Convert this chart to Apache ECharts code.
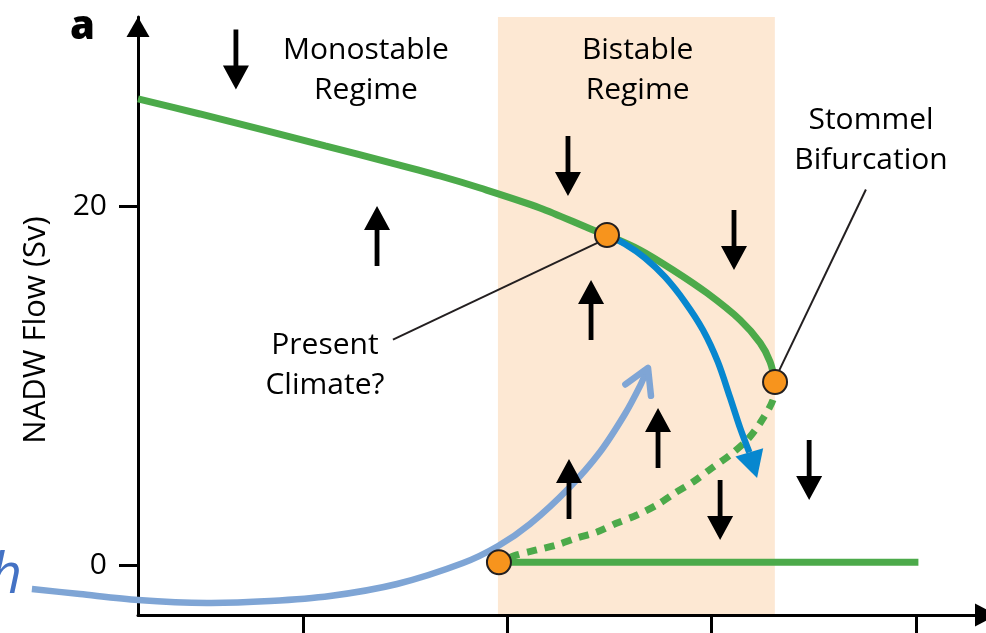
<!DOCTYPE html>
<html><head><meta charset="utf-8">
<script src="https://cdn.jsdelivr.net/npm/echarts@6/dist/echarts.min.js"></script>
<style>html,body{margin:0;padding:0;background:#fff}#c{width:986px;height:633px}</style>
</head><body><div id="c"></div>
<script>
// ---- data (x: forcing, arbitrary units; y: NADW flow in Sv) ----
const xTickValues = [10, 20, 30, 40];
const yTickValues = [0, 20];
const bistableRange = [19.53, 33.09];
const stableUpper = [[1.905,26.00],[4.94,25.16],[8.03,24.27],[11.07,23.38],[14.15,22.48],[16.70,21.70],[18.66,21.03],[21.59,19.92],[24.19,18.69],[24.87,18.41],[26.49,17.57],[28.10,16.46],[29.77,15.17],[31.39,13.67],[32.37,12.39],[32.86,11.33],[33.10,10.21]];
const unstableBranch = [[33.10,10.21],[33.00,9.21],[32.37,7.92],[31.73,6.97],[30.90,6.14],[30.01,5.41],[29.08,4.63],[28.20,4.02],[27.32,3.35],[26.34,2.79],[25.36,2.34],[24.38,1.84],[23.40,1.51],[22.42,1.12],[21.44,0.84],[20.46,0.56],[19.58,0.17]];
const stableLower = [[19.58,0.15],[40.12,0.15]];
const collapsePath = [[24.87,18.41],[25.75,17.91],[26.73,17.13],[27.71,16.07],[28.69,14.67],[29.57,13.11],[30.30,11.33],[30.89,9.37],[31.39,7.64],[31.84,6.28]];
const collapseHead = [[31.84,6.28,32.22,4.85]];
const recoveryPath = [[-3.29,-1.34],[-0.94,-1.62],[1.91,-1.95],[5.28,-2.12],[8.37,-2.01],[11.31,-1.73],[14.59,-1.06],[17.82,0.11],[19.54,1.06],[21.10,2.29],[23.01,4.30],[24.53,6.30],[25.75,8.42],[26.49,9.99],[26.80,10.80]];
const recoveryHead = [[26.49,9.99,26.88,10.99]];
const bifurcationPoints = [[19.58,0.15],[24.87,18.41],[33.10,10.21]];
const flowArrows = [[6.70,28.2,-1],[13.61,18.35,1],[22.96,22.26,-1],[24.09,14.23,1],[31.09,18.13,-1],[27.37,7.09,1],[23.01,4.24,1],[30.41,3.07,-1],[34.77,5.30,-1]];
const leaderLines = [[[14.39,12.57],[24.53,18.04]],[[37.55,20.95],[33.30,10.84]]];
const annotationText = ['Monostable\nRegime','Bistable\nRegime','Stommel\nBifurcation','Present\nClimate?'];
const annotationPos = [[13.07,27.61],[26.37,27.61],[37.80,23.68],[11.06,11.13]];
const panelLabel = {text:'a', pos:[-0.81,29.96]};
const forcingLabel = {text:'h', pos:[-4.56,-0.67]};
const Y_MIN = -2.79, Y_MAX = 30.57, X_MIN = 1.905, X_MAX = 43.43;

const GREEN = '#4CAA4A', BLUE = '#0787CF', LIGHTBLUE = '#7FA5D5', ORANGE = '#F7941D', FONT = 'Open Sans';

function renderRegion(params, api) {
  const p0 = api.coord([api.value(0), Y_MAX]);
  const p1 = api.coord([api.value(1), Y_MIN]);
  return {type:'rect', shape:{x:p0[0], y:p0[1], width:p1[0]-p0[0], height:p1[1]-p0[1]}, style:{fill:'#FDE8D3'}};
}
function renderRecovery(params, api) {
  if (params.dataIndex !== 0) return null;
  const pts = recoveryPath.map(p => api.coord(p));
  return {type:'polyline', shape:{points:pts, smooth:0.3}, style:{stroke:LIGHTBLUE, lineWidth:6.5, fill:null, lineCap:'butt'}};
}
function renderFlowArrow(params, api) {
  const c = api.coord([api.value(0), api.value(1)]);
  const d = api.value(2);
  const L = 60, hw = 13, hl = 24, sw = 2.4;
  const tip = c[1] - d * L / 2, tail = c[1] + d * L / 2, hb = tip + d * hl;
  return {type:'polygon', shape:{points:[[c[0]-sw,tail],[c[0]+sw,tail],[c[0]+sw,hb],[c[0]+hw,hb],[c[0],tip],[c[0]-hw,hb],[c[0]-sw,hb]]}, style:{fill:'#000'}};
}
function renderFilledHead(params, api) {
  const b = api.coord([api.value(0), api.value(1)]);
  const t = api.coord([api.value(2), api.value(3)]);
  const dx = t[0]-b[0], dy = t[1]-b[1], len = Math.hypot(dx, dy);
  const nx = -dy/len, ny = dx/len, hw = 14.5;
  return {type:'polygon', shape:{points:[t,[b[0]+nx*hw,b[1]+ny*hw],[b[0]-nx*hw,b[1]-ny*hw]]}, style:{fill:BLUE}};
}
function renderOpenHead(params, api) {
  const b = api.coord([api.value(0), api.value(1)]);
  const t = api.coord([api.value(2), api.value(3)]);
  const dx = b[0]-t[0], dy = b[1]-t[1], len = Math.hypot(dx, dy);
  const ux = dx/len, uy = dy/len, a = Math.PI/6, L = 28;
  const c = Math.cos(a), s = Math.sin(a);
  const p1 = [t[0] + L*(ux*c - uy*s), t[1] + L*(ux*s + uy*c)];
  const p2 = [t[0] + L*(ux*c + uy*s), t[1] + L*(-ux*s + uy*c)];
  return {type:'polyline', shape:{points:[p1,t,p2]}, style:{stroke:LIGHTBLUE, lineWidth:6.5, fill:null, lineCap:'round', lineJoin:'round'}};
}

const annotations = annotationText.map((t, i) => ({name:t, value:annotationPos[i]}));
const hiddenSymbol = {color:'transparent', opacity:1};

const chart = echarts.init(document.getElementById('c'), null, {renderer:'canvas'});
chart.setOption({
  animation: false,
  backgroundColor: '#fff',
  grid: {left:138, right:0, top:17, bottom:18, containLabel:false, outerBoundsMode:'none'},
  xAxis: {
    type:'value', min:X_MIN, max:X_MAX, z:1,
    axisLine:{show:true, onZero:false, symbol:['none','triangle'], symbolSize:[23,22], symbolOffset:[0,0], lineStyle:{color:'#000', width:3}},
    axisTick:{show:true, inside:false, length:18, customValues:xTickValues, lineStyle:{color:'#000', width:3}},
    axisLabel:{show:false, customValues:xTickValues},
    splitLine:{show:false}
  },
  yAxis: {
    type:'value', min:Y_MIN, max:Y_MAX, z:1,
    name:'NADW Flow (Sv)', nameLocation:'middle', nameGap:86, nameRotate:90,
    nameTextStyle:{fontSize:31, fontFamily:FONT, color:'#000', padding:[0,28,0,0]},
    axisLine:{show:true, onZero:false, symbol:['none','triangle'], symbolSize:[23,20], symbolOffset:[0,-10], lineStyle:{color:'#000', width:3}},
    axisTick:{show:true, inside:false, length:19, customValues:yTickValues, lineStyle:{color:'#000', width:3}},
    axisLabel:{show:true, customValues:yTickValues, margin:31, fontSize:30, fontFamily:FONT, color:'#000'},
    splitLine:{show:false}
  },
  series: [
    {type:'custom', name:'bistable', z:0, data:[bistableRange], encode:{x:[0,1]}, renderItem:renderRegion, silent:true},
    {type:'line', name:'stable upper', z:2, clip:false, smooth:0.3, symbol:'none', data:stableUpper, lineStyle:{color:GREEN, width:7}},
    {type:'line', name:'unstable', z:2, clip:false, smooth:0.3, symbol:'none', data:unstableBranch, lineStyle:{color:GREEN, width:7, type:[10,8], cap:'butt'}},
    {type:'line', name:'stable lower', z:2, clip:false, symbol:'none', data:stableLower, lineStyle:{color:GREEN, width:7}},
    {type:'line', name:'collapse', z:3, clip:false, smooth:0.3, symbol:'none', data:collapsePath, lineStyle:{color:BLUE, width:6.5}},
    {type:'custom', name:'collapse head', z:3, data:collapseHead, encode:{x:[0,2], y:[1,3]}, renderItem:renderFilledHead},
    {type:'custom', name:'recovery', z:3, clip:false, data:recoveryPath, encode:{x:0, y:1}, renderItem:renderRecovery},
    {type:'custom', name:'recovery head', z:3, data:recoveryHead, encode:{x:[0,2], y:[1,3]}, renderItem:renderOpenHead},
    {type:'custom', name:'flow arrows', z:4, data:flowArrows, encode:{x:0, y:1}, renderItem:renderFlowArrow},
    {type:'lines', name:'leaders', coordinateSystem:'cartesian2d', z:5, data:leaderLines.map(c => ({coords:c})), lineStyle:{color:'#231F20', width:2, opacity:1}, symbol:'none'},
    {type:'scatter', name:'points', z:6, clip:false, data:bifurcationPoints, symbol:'circle', symbolSize:24, itemStyle:{color:ORANGE, borderColor:'#231F20', borderWidth:2, opacity:1}},
    {type:'scatter', name:'annotations', z:7, clip:false, symbolSize:1, itemStyle:hiddenSymbol, data:annotations,
      label:{show:true, position:'inside', formatter:p => p.name, fontSize:30, fontFamily:FONT, color:'#000', lineHeight:40, align:'center', verticalAlign:'middle'}},
    {type:'scatter', name:'panel', z:7, clip:false, symbolSize:1, itemStyle:hiddenSymbol, data:[{name:panelLabel.text, value:panelLabel.pos}],
      label:{show:true, position:'inside', formatter:p => p.name, fontSize:40, fontWeight:800, fontFamily:FONT, color:'#000'}},
    {type:'scatter', name:'forcing', z:7, clip:false, symbolSize:1, itemStyle:hiddenSymbol, data:[{name:forcingLabel.text, value:forcingLabel.pos}],
      label:{show:true, position:'inside', formatter:p => p.name, fontSize:56, fontStyle:'italic', fontFamily:FONT, color:'#4472C4'}}
  ]
});
</script></body></html>
